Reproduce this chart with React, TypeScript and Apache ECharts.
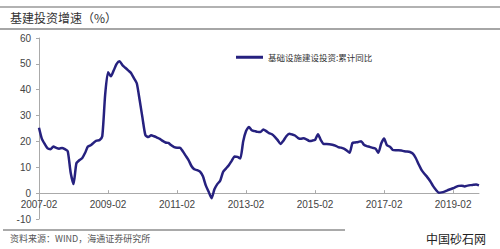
import React, { useEffect, useRef } from "react";
import * as echarts from "echarts";

const title = "基建投资增速（%）";
const source = "资料来源：WIND，海通证券研究所";
const seriesName = "基础设施建设投资:累计同比";
const watermark = "中国砂石网";

const startYear = 2007;
const startMonth = 2;

const v2007 = [25.3, 21, 19, 17.3, 17, 18, 17.5, 17.2, 17.5, 17, 16.2];
const v2008 = [8, 3.5, 11.5, 12.7, 13.5, 15.5, 18, 18.5, 19.5, 20.3, 20.5, 22];
const v2009 = [38, 46.8, 45.2, 47.5, 50, 51, 49.5, 48.5, 47.5, 46.5, 44.5, 42.5];
const v2010 = [36, 29, 22.4, 21.7, 22.4, 22, 21.5, 21, 20.2, 19.6, 19.4, 18.5];
const v2011 = [17.8, 17.6, 17.6, 16.2, 14.5, 12.8, 10.5, 9.2, 8.9, 8.3, 6.5, 3];
const v2012 = [0.5, -2, 1.5, 3.5, 4.8, 8.2, 9.5, 10.8, 12.5, 14.2, 14, 13.4];
const v2013 = [20, 24, 25.6, 24.3, 24, 23.7, 23.6, 24.6, 24, 23.2, 22.8, 21.8];
const v2014 = [20.5, 19, 20.3, 22, 23, 22.7, 22.3, 21.4, 21, 21.2, 20.8, 20.2];
const v2015 = [20.3, 20.6, 22.8, 20.5, 19, 19, 18.9, 18.7, 18.4, 17.8, 17.6, 17.2];
const v2016 = [16.5, 15.6, 19.4, 19.6, 19.8, 20.1, 18.7, 18.2, 17.9, 17.5, 17.2, 15.6];
const v2017 = [19.2, 21.1, 18.5, 18, 16.7, 16.6, 16.6, 16.5, 16.2, 16.1, 15.9, 15.3];
const v2018 = [13.6, 11.2, 9, 7.5, 6.2, 4.7, 2.8, 1.3, 0.2, 0.3, 0.6, 1.1];
const v2019 = [1.5, 1.9, 2.4, 2.8, 2.9, 2.6, 2.9, 3.1, 3.2, 3.3, 3.0];

const values = [
  ...v2007, ...v2008, ...v2009, ...v2010, ...v2011, ...v2012, ...v2013,
  ...v2014, ...v2015, ...v2016, ...v2017, ...v2018, ...v2019,
];

const categories = values.map((_, i) => {
  const t = startYear * 12 + (startMonth - 1) + i;
  const y = Math.floor(t / 12);
  const m = (t % 12) + 1;
  return `${y}-${m < 10 ? "0" + m : m}`;
});

const yMin = -10;
const yMax = 60;

export default function App() {
  const ref = useRef<HTMLDivElement>(null);
  useEffect(() => {
    if (!ref.current) return;
    const chart = echarts.init(ref.current, null, { renderer: "svg" });
    const gridTop = 38;
    const gridBottom = 30;
    const plotH = 249 - gridTop - gridBottom;
    const zeroOffset = -(plotH * (0 - yMin)) / (yMax - yMin);
    chart.setOption({
      animation: false,
      backgroundColor: "#ffffff",
      grid: { left: 39, right: 21, top: gridTop, bottom: gridBottom },
      legend: {
        left: 231,
        top: 48,
        icon: "rect",
        itemWidth: 27,
        itemHeight: 3,
        itemGap: 6,
        textStyle: { fontSize: 8.5, color: "#333", fontFamily: "Noto Sans CJK SC" },
        data: [seriesName],
      },
      xAxis: {
        type: "category",
        data: categories,
        boundaryGap: false,
        offset: zeroOffset,
        axisLine: { onZero: false, lineStyle: { color: "#aaa", width: 1 } },
        axisTick: { interval: 23, inside: true, length: 3, lineStyle: { color: "#aaa" } },
        axisLabel: {
          interval: 23,
          color: "#444",
          fontSize: 10,
          fontFamily: "Liberation Sans",
          margin: 6,
        },
        splitLine: { show: false },
      },
      yAxis: {
        type: "value",
        min: yMin,
        max: yMax,
        interval: 10,
        axisLine: { show: true, lineStyle: { color: "#aaa" } },
        axisTick: { show: true, length: 3, lineStyle: { color: "#aaa" } },
        axisLabel: { color: "#444", fontSize: 10, fontFamily: "Liberation Sans", margin: 8 },
        splitLine: { show: false },
      },
      series: [
        {
          name: seriesName,
          type: "line",
          data: values,
          showSymbol: false,
          smooth: 0.2,
          lineStyle: { color: "#26217f", width: 2.5 },
          itemStyle: { color: "#26217f" },
        },
      ],
      graphic: [
        { type: "line", shape: { x1: 0, y1: 7, x2: 500, y2: 7 }, style: { stroke: "#999", lineWidth: 1.5 } },
        { type: "line", shape: { x1: 0, y1: 29, x2: 500, y2: 29 }, style: { stroke: "#888", lineWidth: 1.5 } },
        {
          type: "text",
          left: 10,
          top: 11,
          style: { text: title, fontSize: 12, fill: "#333", fontFamily: "Noto Sans CJK SC" },
        },
        { type: "line", shape: { x1: 3, y1: 230, x2: 345, y2: 230 }, style: { stroke: "#555", lineWidth: 1 } },
        {
          type: "text",
          left: 10,
          top: 234,
          style: { text: source, fontSize: 9, fill: "#555", fontFamily: "Noto Sans CJK SC" },
        },
        {
          type: "text",
          left: 426,
          top: 232,
          style: { text: watermark, fontSize: 12, fill: "#222", fontFamily: "Noto Sans CJK SC" },
        },
      ],
    });
    return () => chart.dispose();
  }, []);
  return <div ref={ref} style={{ width: 500, height: 249, position: "absolute", left: 0, top: 0 }} />;
}
